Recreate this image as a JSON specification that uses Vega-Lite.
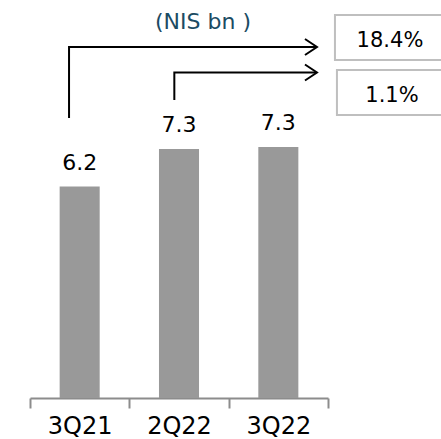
{
  "$schema": "https://vega.github.io/schema/vega-lite/v6.json",
  "autosize": "none",
  "width": 298,
  "height": 358,
  "padding": {"left": 30, "top": 40, "right": 113, "bottom": 41},
  "background": "white",
  "config": {"view": {"stroke": null}, "font": "DejaVu Sans"},
  "title": {
    "text": "(NIS bn )",
    "anchor": "middle",
    "frame": "group",
    "dx": 24,
    "dy": 48,
    "offset": 11,
    "baseline": "alphabetic",
    "fontSize": 22,
    "fontWeight": "normal",
    "font": "DejaVu Sans",
    "color": "#1B4B63"
  },
  "datasets": {
    "bars": [
      {"quarter": "3Q21", "value": 6.2, "label": "6.2"},
      {"quarter": "2Q22", "value": 7.3, "label": "7.3"},
      {"quarter": "3Q22", "value": 7.36, "label": "7.3"}
    ],
    "arrows": [
      {"arrow": "yoy", "step": 1, "u": 0.393, "v": 8.21},
      {"arrow": "yoy", "step": 2, "u": 0.393, "v": 10.295},
      {"arrow": "yoy", "step": 3, "u": 2.879, "v": 10.295},
      {"arrow": "qoq", "step": 1, "u": 1.453, "v": 8.74},
      {"arrow": "qoq", "step": 2, "u": 1.453, "v": 9.547},
      {"arrow": "qoq", "step": 3, "u": 2.879, "v": 9.547}
    ],
    "heads": [
      {"arrow": "yoy", "u": 2.889, "v": 10.295},
      {"arrow": "qoq", "u": 2.889, "v": 9.547}
    ],
    "boxes": [
      {"arrow": "yoy", "u1": 3.07, "u2": 4.3, "v1": 9.913, "v2": 11.233, "tu": 3.624, "tv": 10.295, "text": "18.4%"},
      {"arrow": "qoq", "u1": 3.09, "u2": 4.3, "v1": 8.30, "v2": 9.62, "tu": 3.644, "tv": 8.68, "text": "1.1%"}
    ]
  },
  "resolve": {"scale": {"x": "independent"}},
  "layer": [
    {
      "data": {"name": "bars"},
      "layer": [
        {
          "mark": {"type": "bar", "width": {"band": 0.403}, "color": "#999999"},
          "encoding": {
            "x": {
              "field": "quarter", "type": "nominal", "sort": null,
              "scale": {"paddingInner": 0, "paddingOuter": 0},
              "axis": {
                "title": null, "labelAngle": 0, "tickBand": "extent",
                "domainColor": "#8C8C8C", "domainWidth": 2,
                "tickColor": "#8C8C8C", "tickWidth": 2, "tickSize": 10,
                "labelFontSize": 24, "labelColor": "#000000", "labelPadding": 6,
                "labelFont": "DejaVu Sans"
              }
            },
            "y": {
              "field": "value", "type": "quantitative",
              "scale": {"domain": [0, 10.5], "nice": false},
              "axis": null
            }
          }
        },
        {
          "mark": {"type": "text", "fontSize": 22, "baseline": "alphabetic", "dy": -17, "color": "#000000"},
          "encoding": {
            "x": {"field": "quarter", "type": "nominal", "sort": null},
            "y": {"field": "value", "type": "quantitative"},
            "text": {"field": "label"}
          }
        }
      ]
    },
    {
      "data": {"name": "boxes"},
      "layer": [
        {
          "mark": {"type": "rect", "fill": "white", "stroke": "#BFBFBF", "strokeWidth": 2},
          "encoding": {
            "x": {"field": "u1", "type": "quantitative", "scale": {"domain": [0, 3], "nice": false, "zero": false}, "axis": null},
            "x2": {"field": "u2"},
            "y": {"field": "v1", "type": "quantitative"},
            "y2": {"field": "v2"}
          }
        },
        {
          "mark": {"type": "text", "fontSize": 21, "baseline": "alphabetic", "align": "center", "color": "#000000"},
          "encoding": {
            "x": {"field": "tu", "type": "quantitative", "scale": {"domain": [0, 3], "nice": false, "zero": false}, "axis": null},
            "y": {"field": "tv", "type": "quantitative"},
            "text": {"field": "text"}
          }
        }
      ]
    },
    {
      "data": {"name": "arrows"},
      "mark": {"type": "line", "color": "#000000", "strokeWidth": 2, "strokeJoin": "miter"},
      "encoding": {
        "x": {"field": "u", "type": "quantitative", "scale": {"domain": [0, 3], "nice": false, "zero": false}, "axis": null},
        "y": {"field": "v", "type": "quantitative"},
        "detail": {"field": "arrow"},
        "order": {"field": "step"}
      }
    },
    {
      "data": {"name": "heads"},
      "mark": {"type": "point", "shape": "M-1.5,-1L0,0L-1.5,1", "size": 256, "filled": false, "stroke": "#000000", "strokeWidth": 2, "opacity": 1},
      "encoding": {
        "x": {"field": "u", "type": "quantitative", "scale": {"domain": [0, 3], "nice": false, "zero": false}, "axis": null},
        "y": {"field": "v", "type": "quantitative"},
        "detail": {"field": "arrow"}
      }
    }
  ]
}
